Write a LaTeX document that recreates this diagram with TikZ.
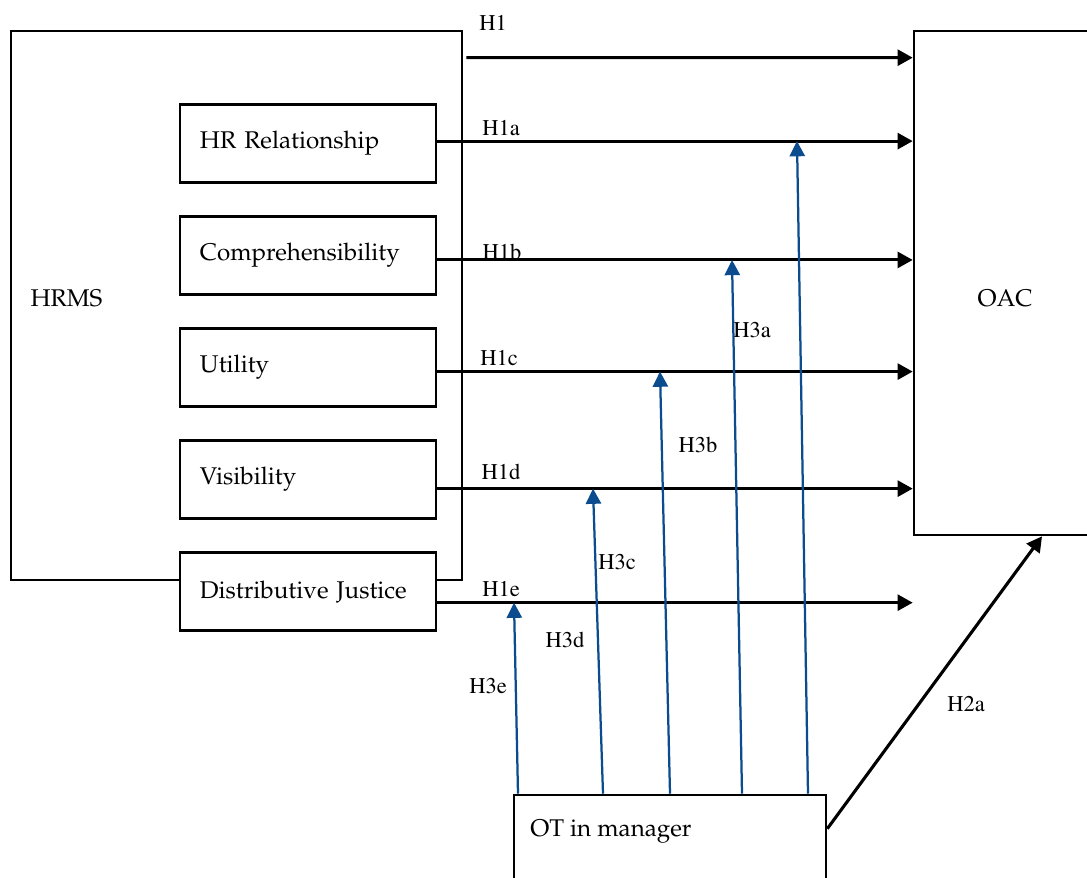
\documentclass[tikz,border=0pt]{standalone}
\usepackage[T1]{fontenc}
\renewcommand{\rmdefault}{ppl}
\usetikzlibrary{chains, positioning, arrows.meta}
\definecolor{modblue}{RGB}{10,76,142}
\newcommand{\hlabel}{\fontfamily{ptm}\fontsize{16}{18}\selectfont}
\newcommand{\boxfont}{\fontsize{17.2}{20}\selectfont}

\begin{document}
\begin{tikzpicture}[x=0.025cm, y=-0.025cm,
    box/.style={draw, line width=1.8pt, fill=white, text width=5.4cm, inner xsep=0.5cm,
      minimum height=1.95cm, align=left, font=\boxfont},
    frame/.style={draw, line width=1.8pt},
    hyp/.style={-{Triangle[length=0.38cm, width=0.4cm]}, line width=2.2pt},
    mod/.style={-{Triangle[length=0.38cm, width=0.38cm]}, line width=1.6pt, modblue},
    lbl/.style={font=\hlabel, inner sep=0pt}]
    \clip (0,0) rectangle (1087,877);

    \node[frame, minimum width=11.275cm, minimum height=13.725cm] (hrms) at (236.5,305.5) {};
    \node[font=\boxfont] (hrmstext) at (66.5,298) {HRMS};

    \begin{scope}[start chain=going below, node distance=0.787cm]
      \node[on chain, box] (hr) at (308,143.5) {HR Relationship};
      \node[on chain, box] (comp) {Comprehensibility};
      \node[on chain, box] (util) {Utility};
      \node[on chain, box] (vis)  {Visibility};
      \node[on chain, box] (dj)   {Distributive Justice};
    \end{scope}

    \node[frame, minimum width=4.55cm, minimum height=12.6cm] (oac) at (1005,283) {};
    \node[font=\boxfont] (oactext) at (1005,298) {OAC};

    \node[frame, minimum width=7.8cm, minimum height=2.625cm] (ot) at (670,847.5) {};
    \node[font=\boxfont, anchor=west, inner sep=0pt] (ottext) at (530,832) {OT in manager};

    % where the H1x lines leave the boxes
    \coordinate (lhr)   at ([yshift=0.06cm]hr.east);
    \coordinate (lcomp) at ([yshift=-0.11cm]comp.east);
    \coordinate (lutil) at ([yshift=-0.1cm]util.east);
    \coordinate (lvis)  at ([yshift=-0.225cm]vis.east);
    \coordinate (ldj)   at ([yshift=-0.275cm]dj.east);

    \draw[hyp] ([shift={(0.075cm,-0.7cm)}]hrms.north east) -- ([yshift=-0.7cm]oac.north west);
    \foreach \c in {lhr, lcomp, lutil, lvis, ldj}
      \draw[hyp] (\c) -- (\c -| oac.west);

    \foreach \xa/\xb/\c in {518/514/ldj, 603/593/lvis, 670/660/lutil, 742/732/lcomp, 808/797/lhr}
      \draw[mod] (ot.north -| \xa,0) -- (\c -| \xb,0);

    \draw[hyp] ([yshift=-0.875cm]ot.north east) -- (oac.south -| 1042,0);

    \foreach \n/\x/\y in {H1/493/23, H1a/501/128, H1b/502/252, H1c/499/358, H1d/501/472,
        H1e/501/589, H3a/752/330, H3b/698/445, H3c/617/562, H3d/565/640, H3e/488/686, H2a/966/704}
      \node[lbl] (\n) at (\x,\y) {\n};
  \end{tikzpicture}
\end{document}
